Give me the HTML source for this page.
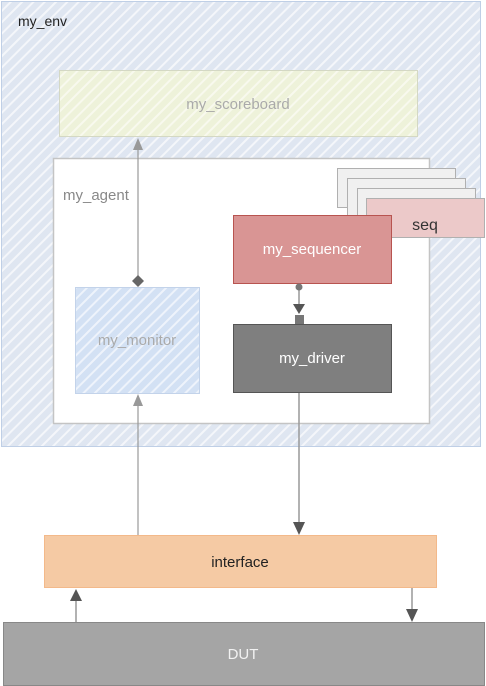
<!DOCTYPE html>
<html><head><meta charset="utf-8"><style>
html,body{margin:0;padding:0;background:#fff;}
svg{display:block;}
text{font-family:"Liberation Sans",sans-serif;}
</style></head><body>
<svg width="486" height="686" viewBox="0 0 486 686" xmlns="http://www.w3.org/2000/svg">
<defs>
<pattern id="hb" width="8" height="8" patternUnits="userSpaceOnUse" patternTransform="rotate(45)">
<rect width="8" height="8" fill="#dfe6f1"/><rect x="0" width="2" height="8" fill="#f4f6fa"/></pattern>
<pattern id="hm" width="8" height="8" patternUnits="userSpaceOnUse" patternTransform="rotate(45)">
<rect width="8" height="8" fill="#d3e1f4"/><rect x="0" width="2" height="8" fill="#eef3fb"/></pattern>
<pattern id="hs" width="8" height="8" patternUnits="userSpaceOnUse" patternTransform="rotate(45)">
<rect width="8" height="8" fill="#eef2da"/><rect x="0" width="2" height="8" fill="#f8f9ee"/></pattern>
</defs>
<rect x="1.5" y="1.5" width="479" height="445" fill="url(#hb)" stroke="#bfcfe6"/>
<text x="18" y="26" font-size="14" fill="#222">my_env</text>
<rect x="59.5" y="70.5" width="358" height="66" fill="url(#hs)" stroke="#d4d8c4"/>
<text x="238" y="109" font-size="15" fill="#aaa" text-anchor="middle">my_scoreboard</text>
<rect x="53.5" y="158.5" width="376" height="265" fill="#fff" stroke="#c4c4c4" stroke-width="1.5"/>
<text x="63" y="200" font-size="15" fill="#888">my_agent</text>
<rect x="337.5" y="168.5" width="118" height="39" fill="#f0f0f0" stroke="#b0b0b0"/>
<rect x="347.5" y="178.5" width="118" height="39" fill="#f0f0f0" stroke="#b0b0b0"/>
<rect x="357.5" y="188.5" width="118" height="39" fill="#f0f0f0" stroke="#b0b0b0"/>
<rect x="366.5" y="198.5" width="118" height="39" fill="#ecc9c9" stroke="#b0b0b0"/>
<text x="425" y="230" font-size="16" fill="#333" text-anchor="middle">seq</text>
<rect x="233.5" y="215.5" width="158" height="68" fill="#d99594" stroke="#b85450"/>
<text x="312" y="254" font-size="15" fill="#fff" text-anchor="middle">my_sequencer</text>
<rect x="75.5" y="287.5" width="124" height="106" fill="url(#hm)" stroke="#c3d3ea"/>
<text x="137" y="345" font-size="15" fill="#aaa" text-anchor="middle">my_monitor</text>
<rect x="233.5" y="324.5" width="158" height="68" fill="#7f7f7f" stroke="#555"/>
<text x="312" y="363" font-size="15" fill="#fff" text-anchor="middle">my_driver</text>
<rect x="44.5" y="535.5" width="392" height="52" fill="#f5caa4" stroke="#f3b98a"/>
<text x="240" y="567" font-size="15" fill="#222" text-anchor="middle">interface</text>
<rect x="3.5" y="622.5" width="481" height="63" fill="#a5a5a5" stroke="#888"/>
<text x="243" y="659" font-size="15" fill="#f2f2f2" text-anchor="middle">DUT</text>
<line x1="138" y1="278" x2="138" y2="146" stroke="#999" stroke-width="1.2"/>
<polygon points="138,138 133,150 143,150" fill="#999"/>
<polygon points="138,275 144,281 138,287 132,281" fill="#666"/>
<line x1="138" y1="535" x2="138" y2="402" stroke="#999" stroke-width="1.2"/>
<polygon points="138,394 133,406 143,406" fill="#999"/>
<line x1="299" y1="287" x2="299" y2="312" stroke="#999" stroke-width="1.5"/>
<circle cx="299" cy="287" r="3.5" fill="#777"/>
<polygon points="293,304 305,304 299,314" fill="#555"/>
<rect x="295" y="315" width="9" height="9" fill="#777"/>
<line x1="299" y1="393" x2="299" y2="526" stroke="#999" stroke-width="1.5"/>
<polygon points="293,522 305,522 299,535" fill="#555"/>
<line x1="76" y1="622" x2="76" y2="598" stroke="#999" stroke-width="1.5"/>
<polygon points="76,589 70,601 82,601" fill="#555"/>
<line x1="412" y1="588" x2="412" y2="612" stroke="#999" stroke-width="1.5"/>
<polygon points="406,609 418,609 412,622" fill="#555"/>
</svg>
</body></html>
